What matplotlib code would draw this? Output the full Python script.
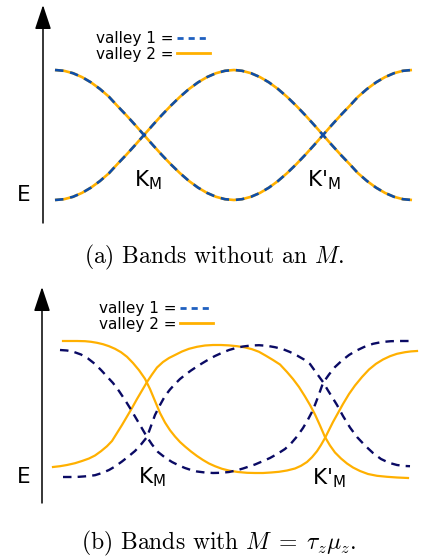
import matplotlib
matplotlib.use("Agg")
import matplotlib.pyplot as plt
from matplotlib.lines import Line2D

# ---------------- data (k in arbitrary units, E in arbitrary units) ----------------
# panel (a): both valleys coincide
k_top = [0.00, 0.09, 0.18, 0.27, 0.36, 0.45, 0.54, 0.62, 0.71, 0.80,
         0.89, 0.98, 1.07, 1.16, 1.25, 1.34, 1.43, 1.52, 1.61, 1.70,
         1.79, 1.87, 1.96, 2.05, 2.14, 2.23, 2.32, 2.41, 2.50, 2.59,
         2.68, 2.77, 2.86, 2.95, 3.03, 3.12, 3.21, 3.30, 3.39, 3.48, 3.57]
top_band_upper = [6.50, 6.42, 6.18, 5.79, 5.26, 4.60, 3.82, 2.95, 2.01, 1.02,
                  0.00, -1.02, -2.01, -2.95, -3.82, -4.60, -5.26, -5.79, -6.18, -6.42,
                  -6.50, -6.42, -6.18, -5.79, -5.26, -4.60, -3.82, -2.95, -2.01, -1.02,
                  0.00, 1.02, 2.01, 2.95, 3.82, 4.60, 5.26, 5.79, 6.18, 6.42, 6.50]
top_band_lower = [-6.50, -6.42, -6.18, -5.79, -5.26, -4.60, -3.82, -2.95, -2.01, -1.02,
                  0.00, 1.02, 2.01, 2.95, 3.82, 4.60, 5.26, 5.79, 6.18, 6.42,
                  6.50, 6.42, 6.18, 5.79, 5.26, 4.60, 3.82, 2.95, 2.01, 1.02,
                  0.00, -1.02, -2.01, -2.95, -3.82, -4.60, -5.26, -5.79, -6.18, -6.42, -6.50]

# panel (b): valley 2 (orange, solid)
v2a_k = [0.08, 0.15, 0.22, 0.30, 0.36, 0.42, 0.48, 0.54, 0.60, 0.66, 0.72, 0.78,
         0.84, 0.90, 0.95, 1.00, 1.05, 1.10, 1.15, 1.20, 1.25, 1.30, 1.36, 1.42,
         1.48, 1.54, 1.60, 1.67, 1.75, 1.83, 1.92, 2.00, 2.08, 2.16, 2.24, 2.32,
         2.40, 2.46, 2.52, 2.57, 2.62, 2.66, 2.70, 2.74, 2.78, 2.83, 2.88, 2.94,
         3.00, 3.07, 3.14, 3.21, 3.28, 3.35, 3.42, 3.50, 3.56, 3.62]
v2a_E = [6.90, 6.90, 6.90, 6.88, 6.82, 6.72, 6.58, 6.38, 6.12, 5.78, 5.32, 4.70,
         3.98, 3.12, 2.10, 0.90, -0.30, -1.25, -2.02, -2.65, -3.20, -3.65, -4.15, -4.60,
         -5.00, -5.35, -5.62, -5.88, -6.08, -6.20, -6.28, -6.30, -6.30, -6.25, -6.18, -6.05,
         -5.85, -5.58, -5.20, -4.72, -4.12, -3.50, -2.80, -2.00, -1.20, -0.30, 0.60, 1.60,
         2.45, 3.30, 4.05, 4.62, 5.05, 5.38, 5.62, 5.78, 5.86, 5.90]
v2b_k = [-0.02, 0.05, 0.12, 0.20, 0.27, 0.34, 0.40, 0.46, 0.52, 0.57, 0.62, 0.67,
         0.72, 0.77, 0.82, 0.87, 0.92, 0.97, 1.02, 1.08, 1.14, 1.20, 1.27, 1.34,
         1.42, 1.50, 1.58, 1.66, 1.74, 1.82, 1.90, 1.97, 2.04, 2.11, 2.18, 2.25,
         2.32, 2.38, 2.44, 2.50, 2.55, 2.60, 2.65, 2.70, 2.75, 2.80, 2.86, 2.92,
         2.98, 3.05, 3.13, 3.22, 3.32, 3.42, 3.53]
v2b_E = [-5.70, -5.62, -5.50, -5.32, -5.10, -4.85, -4.55, -4.12, -3.62, -3.10, -2.30, -1.50,
         -0.65, 0.20, 1.10, 1.95, 2.80, 3.55, 4.25, 4.80, 5.20, 5.50, 5.85, 6.12,
         6.32, 6.45, 6.50, 6.50, 6.46, 6.38, 6.26, 6.08, 5.82, 5.42, 5.00, 4.55,
         3.80, 3.10, 2.30, 1.35, 0.50, -0.45, -1.55, -2.70, -3.55, -4.25, -4.85, -5.35,
         -5.75, -6.10, -6.40, -6.58, -6.68, -6.75, -6.80]

# panel (b): valley 1 (navy, dashed)
v1a_k = [0.05, 0.12, 0.19, 0.26, 0.33, 0.40, 0.46, 0.52, 0.58, 0.64, 0.70, 0.75,
         0.80, 0.85, 0.92, 0.97, 1.03, 1.10, 1.17, 1.24, 1.30, 1.36, 1.42, 1.50,
         1.58, 1.66, 1.74, 1.81, 1.88, 1.94, 2.00, 2.07, 2.15, 2.23, 2.30, 2.36,
         2.42, 2.48, 2.53, 2.58, 2.63, 2.68, 2.74, 2.80, 2.87, 2.94, 3.01, 3.09,
         3.18, 3.27, 3.36, 3.45, 3.55]
v1a_E = [6.00, 5.95, 5.80, 5.55, 5.15, 4.60, 4.00, 3.35, 2.70, 1.90, 1.00, 0.20,
         -0.65, -1.50, -2.70, -3.45, -4.20, -4.75, -5.20, -5.55, -5.80, -6.00, -6.15, -6.25,
         -6.30, -6.28, -6.20, -6.05, -5.85, -5.65, -5.45, -5.15, -4.80, -4.35, -3.90, -3.35,
         -2.65, -1.80, -0.95, 0.00, 1.30, 2.70, 3.55, 4.30, 4.95, 5.50, 5.92, 6.30,
         6.62, 6.80, 6.88, 6.90, 6.90]
v1b_k = [0.08, 0.16, 0.24, 0.32, 0.40, 0.47, 0.54, 0.60, 0.67, 0.74, 0.80, 0.86,
         0.92, 0.96, 1.00, 1.05, 1.10, 1.15, 1.20, 1.25, 1.30, 1.36, 1.42, 1.48,
         1.54, 1.60, 1.67, 1.74, 1.81, 1.88, 1.96, 2.04, 2.12, 2.20, 2.28, 2.35,
         2.42, 2.49, 2.55, 2.60, 2.64, 2.68, 2.73, 2.78, 2.82, 2.88, 2.95, 3.02,
         3.10, 3.18, 3.26, 3.34, 3.42, 3.50, 3.55]
v1b_E = [-6.70, -6.70, -6.68, -6.62, -6.52, -6.30, -6.00, -5.65, -5.15, -4.60, -4.10, -3.45,
         -2.70, -1.60, -0.50, 0.50, 1.40, 2.05, 2.60, 3.10, 3.50, 3.95, 4.35, 4.72,
         5.08, 5.40, 5.72, 6.00, 6.20, 6.35, 6.45, 6.48, 6.42, 6.28, 6.08, 5.80,
         5.45, 5.05, 4.60, 3.90, 3.35, 2.80, 1.95, 1.15, 0.50, -0.60, -1.75, -2.70,
         -3.55, -4.30, -4.90, -5.28, -5.50, -5.60, -5.62]

legend_labels = ["valley 1 =", "valley 2 ="]
caption_a = "(a) Bands without an $M$."
caption_b = r"(b) Bands with $M\;=\;\tau_z\mu_z$."
label_K = r"K$_\mathrm{M}$"
label_Kp = r"K$'_\mathrm{M}$"
label_E = "E"

# ---------------- styles ----------------
ORANGE = "#ffb000"
BLUE_TOP = "#0e4ea8"
NAVY = "#0a0a64"
LEG_BLUE = "#1f60c0"

W, H = 422, 559
fig = plt.figure(figsize=(W / 100, H / 100), dpi=100)
top_h = 280 / H
ax1 = fig.add_axes([0, 1 - top_h, 1, top_h])
ax2 = fig.add_axes([0, 0, 1, 1 - top_h])
for ax in (ax1, ax2):
    ax.set_axis_off()
    ax.set_xlim(-0.55, 3.67)
ax1.set_ylim(-14.5, 13.5)
ax2.set_ylim(-14.9, 13.0)

# panel (a)
ax1.plot(k_top, top_band_upper, color=ORANGE, lw=1.9, solid_capstyle="butt", zorder=2)
ax1.plot(k_top, top_band_lower, color=ORANGE, lw=1.9, solid_capstyle="butt", zorder=2)
ax1.plot(k_top, top_band_upper, color=BLUE_TOP, lw=1.9, dashes=(3.2, 2.6), zorder=3)
ax1.plot(k_top, top_band_lower, color=BLUE_TOP, lw=1.9, dashes=(3.2, 2.6), zorder=3)

# panel (b)
ax2.plot(v2a_k, v2a_E, color=ORANGE, lw=1.6, zorder=2)
ax2.plot(v2b_k, v2b_E, color=ORANGE, lw=1.6, zorder=2)
ax2.plot(v1a_k, v1a_E, color=NAVY, lw=1.7, dashes=(3.6, 2.6), zorder=3)
ax2.plot(v1b_k, v1b_E, color=NAVY, lw=1.7, dashes=(3.6, 2.6), zorder=3)


def decorate(ax, ph, y0, arrow_x, arrow_top, arrow_bot, leg_xy, K_xy, Kp_xy, E_xy, cap_xy, caption):
    def fy(py):
        return 1 - (py - y0) / ph
    ax.annotate("", xy=(arrow_x / W, fy(arrow_top)), xytext=(arrow_x / W, fy(arrow_bot)),
                xycoords="axes fraction", textcoords="axes fraction",
                arrowprops=dict(arrowstyle="-|>,head_length=0.75,head_width=0.25",
                                lw=1.1, color="black", mutation_scale=20, shrinkA=0, shrinkB=0))
    handles = [Line2D([], [], color=LEG_BLUE, lw=2.0, dashes=(2.2, 1.8)),
               Line2D([], [], color=ORANGE, lw=2.0)]
    ax.legend(handles, legend_labels, loc="upper left",
              bbox_to_anchor=(leg_xy[0] / W, fy(leg_xy[1])), frameon=False,
              markerfirst=False, handlelength=2.2, handletextpad=0.2,
              labelspacing=0.05, fontsize=11, borderpad=0, borderaxespad=0)
    ax.text(K_xy[0] / W, fy(K_xy[1]), label_K, transform=ax.transAxes, fontsize=15.5,
            ha="center", va="center", math_fontfamily="dejavusans")
    ax.text(Kp_xy[0] / W, fy(Kp_xy[1]), label_Kp, transform=ax.transAxes, fontsize=15.5,
            ha="center", va="center", math_fontfamily="dejavusans")
    ax.text(E_xy[0] / W, fy(E_xy[1]), label_E, transform=ax.transAxes, fontsize=15.5,
            ha="center", va="center")
    ax.text(cap_xy[0] / W, fy(cap_xy[1]), caption, transform=ax.transAxes, fontsize=17,
            ha="center", va="center", family="cmr10", math_fontfamily="cm")


decorate(ax1, 280, 0, 43, 5, 223, (96, 31), (148, 180), (324, 180), (24, 195), (214, 257), caption_a)
decorate(ax2, 279, 280, 42, 287, 503, (99, 301), (152, 477), (329, 478), (24, 477), (219, 543), caption_b)

fig.savefig("out.png", dpi=100)
